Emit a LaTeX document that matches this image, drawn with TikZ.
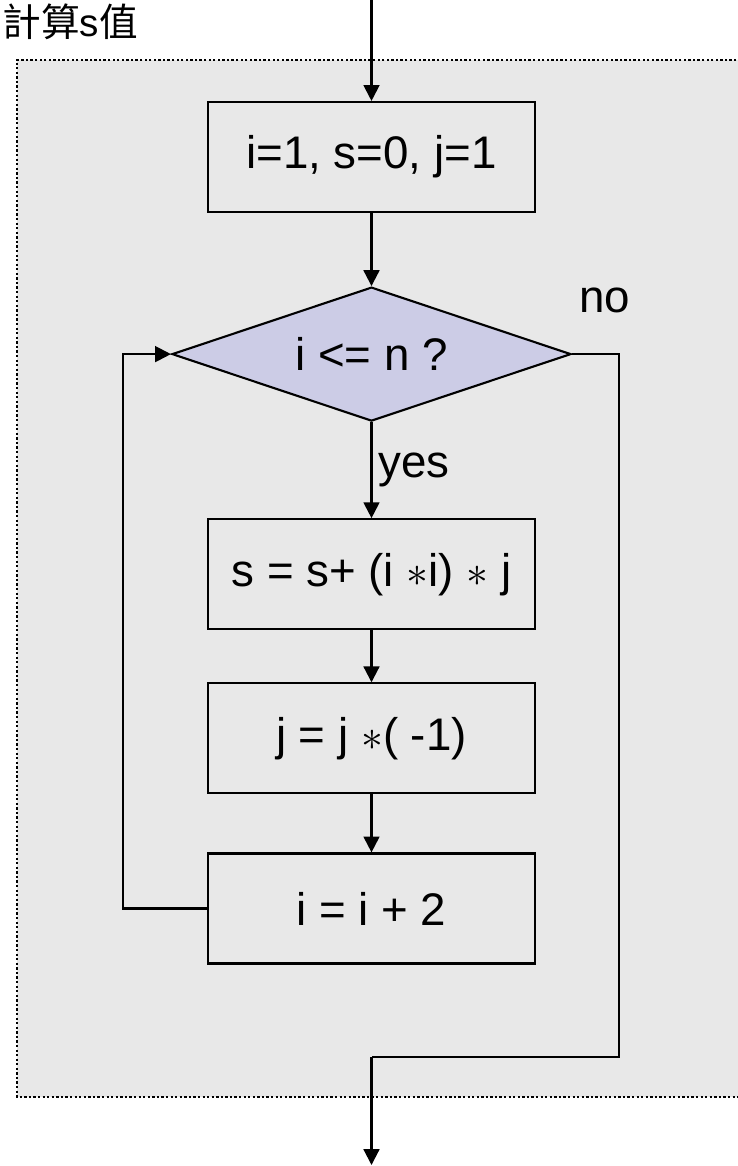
\documentclass[tikz,border=0pt]{standalone}
\usepackage{fontspec}
\setmainfont{Liberation Sans}
\newfontfamily\cjk{Noto Sans CJK TC}
\usetikzlibrary{arrows.meta, shapes.geometric, positioning}
\definecolor{panelGray}{RGB}{232,232,232}
\definecolor{decideBlue}{RGB}{204,204,230}
\tikzstyle{stepBox} = [rectangle, minimum width=6.54cm, minimum height=2.2cm, text centered, draw=black, line width=1.2pt, font=\fontsize{26}{30}\selectfont]
\tikzstyle{decide} = [diamond, shape aspect=2.98, inner sep=0pt, minimum width=7.98cm, minimum height=2.68cm, draw=black, fill=decideBlue, line width=1.2pt, font=\fontsize{26}{30}\selectfont]
\tikzstyle{arrowFlow} = [line width=1.2pt, -{Triangle[length=9pt, width=9pt]}]
\tikzstyle{lineFlow} = [line width=1.2pt]
\tikzstyle{tag} = [inner sep=0pt, font=\fontsize{26}{30}\selectfont]

\begin{document}
\begin{tikzpicture}[node distance=1.1cm]
    \useasboundingbox (0,0) rectangle (14.74,-23.32);

    % background panel
    \fill [panelGray] (0.34,-1.2) rectangle (15,-21.94);
    \draw [line width=1.3pt, dash pattern=on 1.3pt off 1.3pt] (15,-1.2) -- (0.34,-1.2) -- (0.34,-21.94) -- (15,-21.94);

    \node (title) [inner sep=0pt, anchor=north west, font=\fontsize{22}{26}\selectfont] at (0.04,-0.06) {{\cjk 計算}s{\cjk 值}};

    \coordinate (start) at (7.43,0);
    \node (initBox) [stepBox] at (7.43,-3.14) {i=1, s=0, j=1};
    \node (testDia) [decide, below=1.46cm of initBox] {i <= n ?};
    \node (sumBox) [stepBox, below=1.92cm of testDia] {s = s+ (i $\ast$i) $\ast$ j};
    \node (signBox) [stepBox, below=1.04cm of sumBox] {j = j $\ast$( -1)};
    \node (incBox) [stepBox, below=1.16cm of signBox] {i = i + 2};

    \coordinate (loopCorner) at (2.46,0 |- incBox.west);
    \coordinate (noCorner) at (12.38,0 |- testDia.east);
    \coordinate (joinRight) at (12.38,-21.14);
    \coordinate (joinMid) at (7.43,-21.14);
    \coordinate (stop) at (7.43,-23.3);

    \draw [arrowFlow] (start) -- (initBox);
    \draw [arrowFlow] (initBox) -- (testDia);
    \draw [arrowFlow] (testDia) -- node (yesTag) [tag, right=0.12cm] {yes} (sumBox);
    \draw [arrowFlow] (sumBox) -- (signBox);
    \draw [arrowFlow] (signBox) -- (incBox);
    \draw [arrowFlow] (incBox.west) -- (loopCorner) |- (testDia.west);
    \draw [lineFlow] (testDia.east) -- (noCorner) -- (joinRight) -- (joinMid);
    \draw [arrowFlow] (joinMid) -- (stop);

    \node (noTag) [tag] at (12.1,-6.0) {no};

\end{tikzpicture}
\end{document}
